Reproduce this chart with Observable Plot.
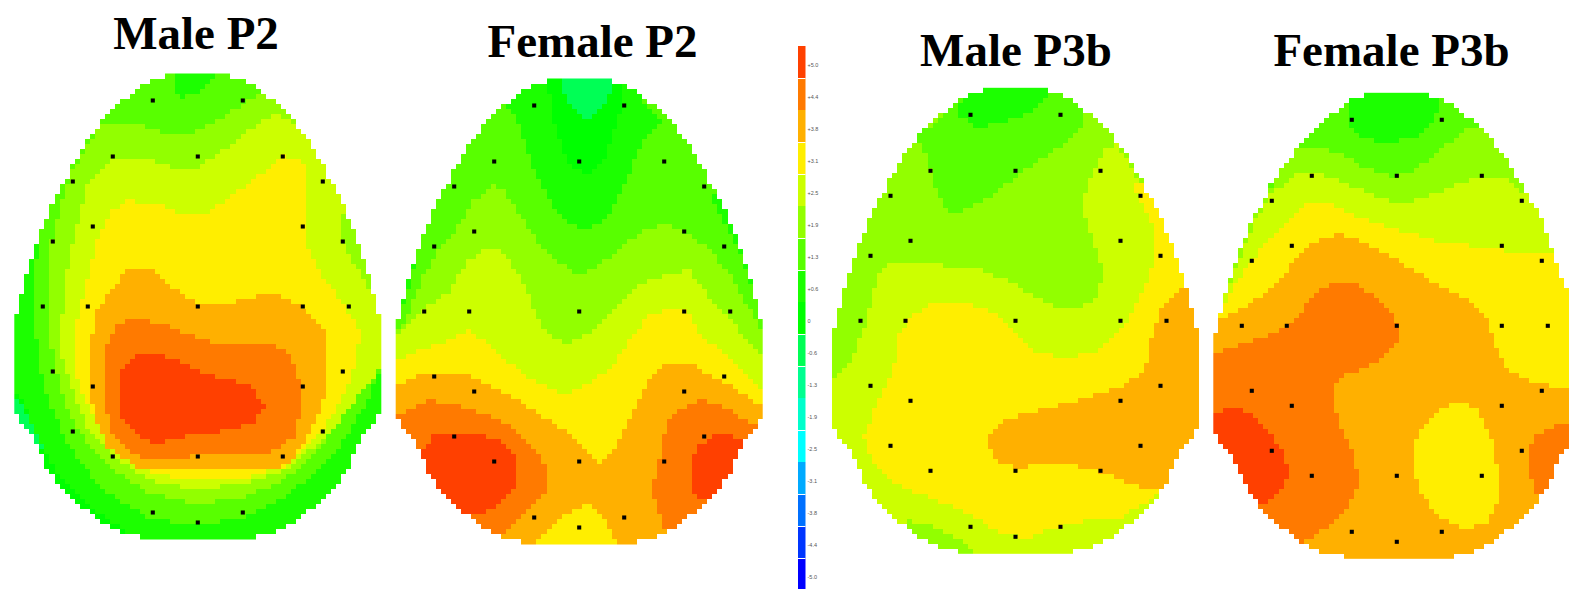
<!DOCTYPE html>
<html><head><meta charset="utf-8">
<style>html,body{margin:0;padding:0;background:#fff;overflow:hidden}svg{display:block}</style>
<script src="https://cdn.jsdelivr.net/npm/d3@7"></script>
<script src="https://cdn.jsdelivr.net/npm/@observablehq/plot@0.6"></script>
</head><body><script>
// Voltage scale (colour bar)
const voltages=[5,4.4,3.8,3.1,2.5,1.9,1.3,0.6,0,-0.6,-1.3,-1.9,-2.5,-3.1,-3.8,-4.4,-5];
const tickLabels=["+5.0","+4.4","+3.8","+3.1","+2.5","+1.9","+1.3","+0.6","0","-0.6","-1.3","-1.9","-2.5","-3.1","-3.8","-4.4","-5.0"];
const levelColors=["#ff4000","#ff7a00","#ffb000","#ffee00","#ccff00","#92ff00","#58ff00","#1cff00","#00ff00","#00ff55","#00ff90","#00ffcc","#00ffff","#00aaff","#0070ff","#0035ff","#0000ff"];
const separatorLevels=[1,3,4,6,7,9,10,12,14,15,16];

// Electrode montage, offset from the head centre
const electrodeDx=[-45,45,-85,0,85,-125,125,-105,105,-145,145,-155,-110,0,105,151,-145,145,-105,105,-125,125,-85,0,85,-45,45,0];
const electrodeDy=[-206,-206,-150,-150,-150,-125,-125,-80,-80,-65,-65,0,0,0,0,0,65,65,80,80,125,125,150,150,150,206,206,216];

// Head outline: half width at offsets from the head centre
const outlineDy=[-233,-228,-223,-218,-213,-208,-198,-188,-183,-173,-163,-153,-138,-123,-113,-98,-83,-73,-53,-41,-28,-6,19,102,115,119,132,146,156,166,179,189,202,206,214,222,227,232];
const outlineHw=[23,43,53,58,63,73,83,93,98,103,113,118,128,133,143,148,153,158,163,168,173,178,183,183,178,173,163,158,153,148,138,128,118,108,98,88,73,48];

// Contour layers per map: [voltage, flat boundary list], painted in order
const maleP2Base=0.6;
const maleP2Layers=[
[0,[30,990,60,1000,100,1100,160,1230,240,1320,400,1430,400,1500,0,1500,0,990]],
[-0.6,[30,1000,60,1015,100,1110,130,1170,0,1170,0,1000]],
[1.3,[520,0,530,100,545,110,600,90,660,40,680,0,1200,0,1200,950,1140,925,1100,1020,1040,1130,950,1235,850,1310,730,1375,590,1395,450,1375,350,1320,280,1260,200,1150,150,1040,115,900,105,800,100,640,120,530,0,500,0,0]],
[1.9,[300,190,420,190,500,222,590,212,680,160,770,100,1200,100,1200,930,1140,925,1080,1000,1020,1080,950,1170,850,1260,730,1310,590,1335,450,1300,340,1230,260,1150,200,1050,170,950,150,850,145,700,150,560,180,420,215,330,260,255]],
[2.5,[330,300,440,290,520,322,590,320,650,285,720,225,800,170,830,155,880,190,1200,250,1200,400,1020,470,1030,560,1070,620,1110,690,1200,700,1200,925,1140,925,1080,1000,1020,1080,950,1150,850,1230,730,1270,590,1290,450,1260,340,1190,260,1100,220,1000,185,900,180,800,200,620,225,500,265,360]],
[3.1,[380,420,470,430,540,460,620,460,700,400,780,340,850,285,915,310,915,540,960,640,1020,720,1075,800,1080,830,1060,930,1000,1060,950,1130,850,1220,730,1255,590,1260,450,1240,340,1160,270,1050,225,950,225,800,260,650,290,530,330,450]],
[3.8,[380,630,460,630,540,700,600,735,730,720,800,700,860,710,930,760,975,810,975,1000,950,1080,880,1190,840,1225,410,1225,320,1160,280,1070,270,1000,270,860,285,760,320,700]],
[4.4,[390,775,470,785,560,820,650,850,825,855,870,880,900,970,900,1050,880,1130,800,1180,420,1195,340,1130,315,1050,315,870,345,800]],
[5,[410,880,490,885,620,940,750,975,790,1040,760,1090,680,1110,550,1130,460,1150,390,1110,360,1060,360,930]]
];
const femaleP2Base=1.3;
const femaleP2Layers=[
[0.6,[350,130,385,190,420,300,480,430,540,490,590,505,640,480,690,400,730,300,770,220,820,180,760,120,730,0,400,0]],
[0.6,[190,340,130,430,90,540,40,730,15,800,0,800,0,340]],
[0.6,[960,400,1010,500,1060,610,1115,790,1200,800,1200,400]],
[0,[465,0,480,150,530,300,590,350,640,300,690,150,710,0]],
[-0.6,[500,0,520,90,550,150,585,185,620,150,660,100,670,0]],
[1.9,[30,800,60,740,100,640,150,560,200,500,250,420,315,370,350,400,420,510,480,590,560,640,620,620,680,570,760,510,830,490,900,520,960,570,1020,640,1060,720,1110,800,1200,800,1200,1500,0,1500,0,800]],
[2.5,[30,810,90,750,170,700,230,600,290,565,340,575,390,650,430,740,470,820,530,850,600,820,680,730,750,670,830,640,900,630,950,700,1020,780,1100,880,1200,900,1200,1500,0,1500,0,830]],
[3.1,[15,900,90,870,170,840,240,810,290,850,350,900,430,960,520,1000,600,970,660,920,710,850,770,770,830,745,890,750,930,820,1000,880,1060,940,1117,1000,1200,1000,1200,1500,0,1500,0,900]],
[3.8,[15,975,95,940,230,940,310,980,370,1010,440,1060,520,1110,580,1160,625,1212,680,1150,730,1050,770,970,820,915,900,910,990,960,1060,1000,1117,1040,1200,1040,1200,1500,680,1500,680,1452,640,1370,590,1330,500,1380,425,1452,425,1500,0,1500,0,975]],
[4.4,[15,1070,120,1018,210,1040,300,1065,380,1110,440,1170,470,1220,465,1290,420,1350,345,1410,300,1450,0,1450,0,1070]],
[4.4,[785,1280,810,1180,830,1090,880,1040,930,1018,1000,1040,1100,1100,1200,1100,1200,1450,800,1450,830,1420,800,1350]],
[5,[90,1170,135,1122,280,1122,340,1150,378,1190,378,1270,330,1330,285,1360,215,1360,0,1300]],
[5,[905,1200,925,1160,960,1130,1020,1120,1060,1150,1060,1200,950,1330,905,1290]]
];
const maleP3bBase=1.9;
const maleP3bLayers=[
[1.3,[290,200,370,130,420,80,520,0,700,0,800,140,770,190,690,250,600,310,520,370,450,410,390,430,350,370,320,260]],
[0.6,[400,130,470,170,540,155,620,130,690,70,650,0,520,0,430,80]],
[2.5,[38,935,100,860,135,760,170,620,210,580,330,580,480,600,560,630,640,680,710,715,790,710,835,670,850,610,820,510,790,430,800,340,860,230,890,220,950,330,1000,400,1200,400,1200,1500,0,1500,0,935]],
[1.9,[260,1350,340,1370,420,1410,470,1450,470,1500,260,1500]],
[3.1,[925,330,960,400,1000,480,1000,570,960,680,900,780,840,840,740,865,640,840,590,790,530,730,440,700,330,700,270,740,235,800,220,900,170,1000,130,1100,160,1180,230,1240,350,1290,450,1330,530,1380,620,1405,680,1380,800,1350,900,1340,1030,1260,1200,1200,1200,330]],
[3.8,[1090,655,1030,700,1000,780,985,830,975,900,900,950,790,985,660,1020,560,1045,510,1090,500,1120,530,1170,590,1195,660,1180,770,1185,860,1210,970,1255,1030,1250,1200,1100,1200,655]]
];
const femaleP3bBase=1.3;
const femaleP3bLayers=[
[0.6,[440,120,480,170,560,190,640,170,700,130,720,60,690,0,520,0,450,60]],
[1.9,[120,500,150,430,205,330,240,270,295,195,400,212,500,265,590,290,650,265,730,200,810,140,1200,140,1200,1500,0,1500,0,500]],
[2.5,[90,610,120,530,165,420,210,340,280,285,350,280,440,310,540,355,620,370,700,340,780,310,850,285,920,290,970,340,1200,340,1200,1500,0,1500,0,610]],
[3.1,[70,700,80,650,120,590,180,510,250,430,310,375,400,375,500,420,600,450,700,480,800,495,900,510,1050,520,1200,520,1200,1500,0,1500,0,700]],
[3.8,[40,790,55,715,130,685,190,640,250,580,290,530,350,480,410,460,480,480,560,520,640,570,720,620,800,660,860,720,890,800,920,870,1000,905,1107,930,1200,950,1200,1500,0,1500,0,790]],
[4.4,[40,820,130,790,220,760,280,730,310,680,340,640,390,608,470,615,550,670,585,720,598,780,550,830,480,870,430,885,400,910,405,1000,440,1080,460,1130,475,1210,440,1280,390,1330,330,1375,300,1385,0,1385,0,820]],
[5,[40,1000,100,985,150,1000,200,1050,240,1100,265,1170,240,1230,195,1270,150,1270,0,1100]],
[4.4,[988,1100,1010,1060,1070,1030,1200,1030,1200,1200,1040,1240,1005,1240,988,1170]],
[3.1,[665,1040,720,985,780,968,830,990,870,1060,895,1170,895,1260,855,1330,790,1345,720,1310,660,1240,640,1160,640,1080]]
];

const titles=["Male P2","Female P2","Male P3b","Female P3b"];
const titleX=[195.5,592,1015.5,1391];
const titleY=[33,41,50,50];
const headCx=[197.3,578.7,1015,1396.3];
const headCy=[306,311,320.3,325.3];
const cropX=[0,390,820,1200];
const cropY=[60,60,70,80];
const bases=[maleP2Base,femaleP2Base,maleP3bBase,femaleP3bBase];
const layerSets=[maleP2Layers,femaleP2Layers,maleP3bLayers,femaleP3bLayers];

function halfWidth(dy){
  if(dy<outlineDy[0]||dy>233) return -1;
  const i=d3.bisectRight(outlineDy,dy)-1;
  if(i>=outlineDy.length-1) return outlineHw[outlineHw.length-1];
  const t=(dy-outlineDy[i])/(outlineDy[i+1]-outlineDy[i]);
  return outlineHw[i]+t*(outlineHw[i+1]-outlineHw[i]);
}
function headSampler(h){
  const rings=layerSets[h].map(([v,f])=>{
    const pts=[];
    for(let i=0;i<f.length;i+=2) pts.push([cropX[h]+f[i]/3,cropY[h]+f[i+1]/3]);
    return [v,pts];
  });
  return (x,y)=>{
    if(Math.abs(x-headCx[h])>halfWidth(y-headCy[h])) return NaN;
    let v=bases[h];
    for(const [lv,pts] of rings) if(d3.polygonContains(pts,[x,y])) v=lv;
    return v;
  };
}
const rasters=[0,1,2,3].map(h=>Plot.raster({
  x1:headCx[h]-183.5,x2:Math.min(1569,headCx[h]+183.5),
  y1:headCy[h]-233,y2:headCy[h]+233,
  pixelSize:5,imageRendering:"pixelated",
  fill:headSampler(h)
}));
const electrodes=[0,1,2,3].flatMap(h=>electrodeDx.map((dx,i)=>({x:headCx[h]+dx,y:headCy[h]+electrodeDy[i]})));
const bar=voltages.map((v,i)=>({v,label:tickLabels[i],i}));
const ascending=voltages.slice().reverse();
const thresholds=ascending.slice(1).map((v,i)=>(v+ascending[i])/2);

const chart=Plot.plot({
  width:1569,height:589,margin:0,
  x:{domain:[0,1569],range:[0,1569],axis:null},
  y:{domain:[0,589],range:[0,589],axis:null},
  color:{type:"threshold",domain:thresholds,range:levelColors.slice().reverse()},
  style:{background:"#fff"},
  marks:[
    ...rasters,
    Plot.dot(electrodes,{x:"x",y:"y",symbol:"square",r:2.3,fill:"#000"}),
    Plot.rect(bar,{x1:()=>798,x2:()=>805.5,y1:d=>46+32*d.i,y2:d=>46+32*(d.i+1),fill:"v"}),
    Plot.ruleY(separatorLevels,{y:d=>46+32*d,x1:798,x2:805.5,stroke:"#fff",strokeWidth:1}),
    Plot.text(bar,{x:()=>807,y:d=>65+32*d.i,text:"label",textAnchor:"start",fontSize:5.5,fill:"#555",fontFamily:"Liberation Sans"}),
    Plot.text(titles,{x:(d,i)=>titleX[i],y:(d,i)=>titleY[i],text:d=>d,fontFamily:"Liberation Serif",fontWeight:"bold",fontSize:47,fill:"#000",textAnchor:"middle"})
  ]
});
document.body.appendChild(chart);
</script></body></html>
